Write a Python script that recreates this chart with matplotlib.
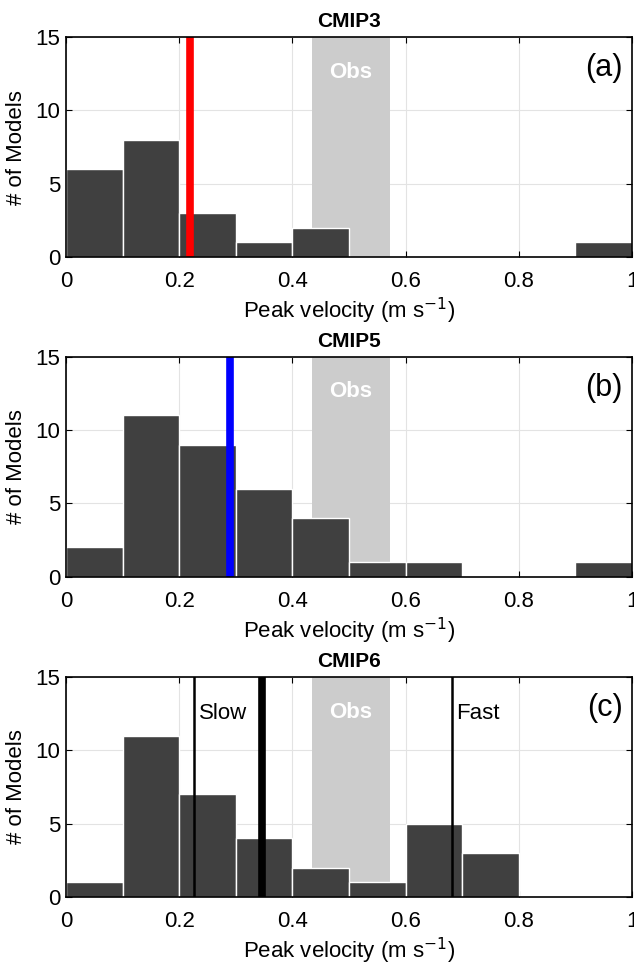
import numpy as np
import matplotlib.pyplot as plt

plt.rcParams['font.family'] = ['Liberation Sans', 'DejaVu Sans']

bin_edges = [0.0, 0.1, 0.2, 0.3, 0.4, 0.5, 0.6, 0.7, 0.8, 0.9, 1.0]
counts_cmip3 = [6, 8, 3, 1, 2, 0, 0, 0, 0, 1]
counts_cmip5 = [2, 11, 9, 6, 4, 1, 1, 0, 0, 1]
counts_cmip6 = [1, 11, 7, 4, 2, 1, 5, 3, 0, 0]

titles = ["CMIP3", "CMIP5", "CMIP6"]
letters = ["(a)", "(b)", "(c)"]
mean_vals = [0.22, 0.29, 0.347]
mean_colors = ["#ff0000", "#0000ff", "#000000"]
obs_range = [0.435, 0.572]
slow_fast = [0.226, 0.682]

fig = plt.figure(figsize=(6.34, 9.63), dpi=100)
bottoms = [0.733, 0.401, 0.0685]

for i, counts in enumerate([counts_cmip3, counts_cmip5, counts_cmip6]):
    ax = fig.add_axes([0.104, bottoms[i], 0.893, 0.2285])
    ax.axvspan(obs_range[0], obs_range[1], color="#cccccc", lw=0, zorder=1)
    ax.text(np.mean(obs_range), 12.6, "Obs", color="white", fontsize=16,
            fontweight="bold", ha="center", va="center", zorder=2)
    ax.bar(bin_edges[:-1], counts, width=0.1, align="edge", color="#404040",
           edgecolor="white", linewidth=1, zorder=3)
    ax.axvline(mean_vals[i], color=mean_colors[i], lw=5.5, zorder=4)
    if i == 2:
        for x in slow_fast:
            ax.axvline(x, color="black", lw=1.8, zorder=4)
        ax.text(0.235, 12.5, "Slow", fontsize=16, va="center", zorder=5)
        ax.text(0.689, 12.5, "Fast", fontsize=16, va="center", zorder=5)
    ax.text(0.983, 12.9, letters[i], fontsize=22, ha="right", va="center", zorder=5)
    ax.set_xlim(0, 1)
    ax.set_ylim(0, 15)
    ax.set_xticks([0, 0.2, 0.4, 0.6, 0.8, 1])
    ax.set_xticklabels(["0", "0.2", "0.4", "0.6", "0.8", "1"])
    ax.set_yticks([0, 5, 10, 15])
    ax.grid(True, color="#e3e3e3", lw=0.8, zorder=0)
    ax.set_axisbelow(True)
    ax.tick_params(direction="in", top=True, right=True, labelsize=16, length=4)
    ax.tick_params(axis="x", pad=10)
    ax.tick_params(axis="y", pad=4)
    for s in ax.spines.values():
        s.set_linewidth(1.2)
        s.set_zorder(6)
    ax.set_title(titles[i], fontsize=15, fontweight="bold", pad=7)
    ax.set_ylabel("# of Models", fontsize=16, labelpad=6)
    ax.set_xlabel("Peak velocity (m s$^{-1}$)", fontsize=16, labelpad=3)

plt.savefig("out.png", dpi=100)
